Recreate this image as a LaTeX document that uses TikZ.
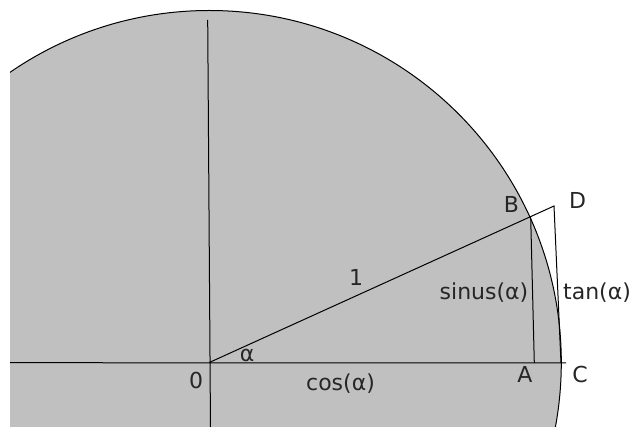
\documentclass[tikz,border=0pt]{standalone}
\usepackage{fontspec}
\setmainfont{DejaVu Sans}
\usetikzlibrary{positioning}
\definecolor{disk}{RGB}{192,192,192}

\begin{document}
\begin{tikzpicture}[
  x=0.75pt,y=-0.75pt,
  font=\fontsize{16.5}{19}\selectfont,
  line/.style={draw=black,line width=0.75pt},
  lbl/.style={inner sep=0pt,anchor=center,text=black!85},
]
\useasboundingbox (0,0) rectangle (635,427);

% points of the figure
\coordinate (o) at (209.3,362.5);
\coordinate (west) at (10,362.7);
\coordinate (c) at (566,363);
\coordinate (north) at (207.7,20);
\coordinate (south) at (210.5,430);
\coordinate (b) at (530.7,217.3);
\coordinate (a) at (534.3,363);
\coordinate (d) at (554,206);
\coordinate (t) at (561,363);

\begin{scope}
  \clip (10,0) rectangle (635,426);
  \fill[disk] (o) circle (264pt);
  \draw[line] (o) circle (264pt);
  \draw[line] (west) -- (c);
  \draw[line] (north) -- (south);
  \draw[line] (o) -- (d) -- (t);
  \draw[line] (b) -- (a);
\end{scope}

\node[lbl] (lb) at (511.5,204) {B};
\node[lbl] (ld) at (577.5,200) {D};
\node[lbl] (one) at (356,277.5) {1};
\node[lbl] (sin) at (484,293) {sinus(α)};
\node[lbl] (tan) at (597,293) {tan(α)};
\node[lbl] (alpha) at (247,355) {α};
\node[lbl] (zero) at (196,380) {0};
\node[lbl] (cos) at (340.5,384) {cos(α)};
\node[lbl] (la) at (525,374) {A};
\node[lbl] (lc) at (580,374.5) {C};
\end{tikzpicture}
\end{document}
